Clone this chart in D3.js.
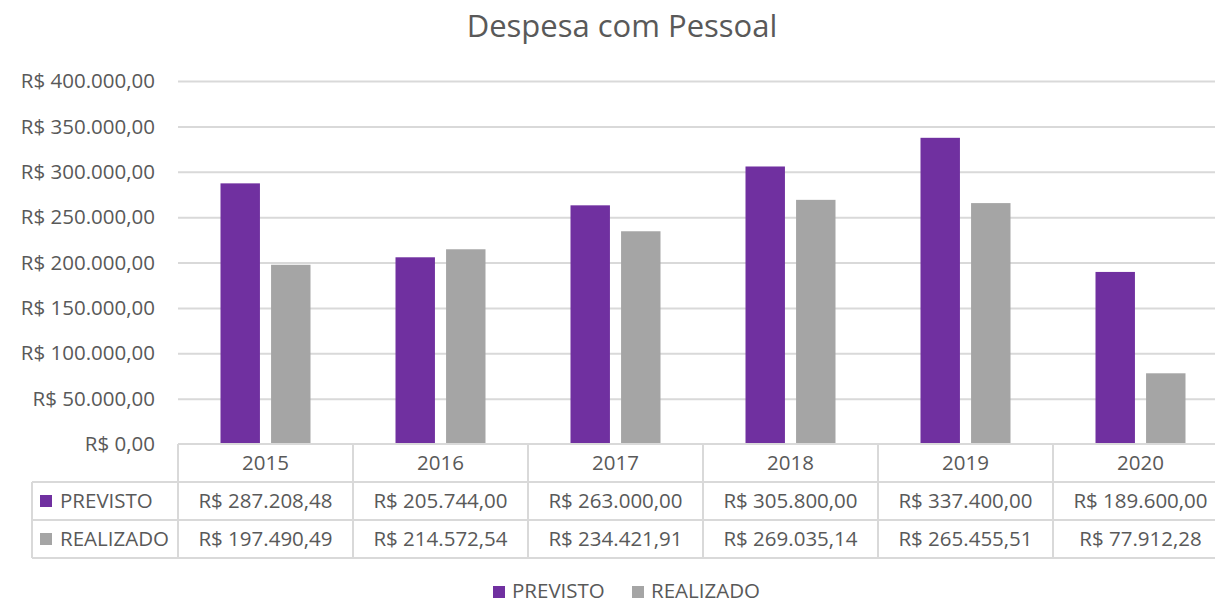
<!DOCTYPE html>
<html>
<head>
<meta charset="utf-8">
<script src="https://cdn.jsdelivr.net/npm/d3@7"></script>
<style>
  body { margin: 0; background: #fff; }
  svg text { font-family: "Open Sans", "Liberation Sans", sans-serif; fill: #595959; }
</style>
</head>
<body>
<div id="chart"></div>
<script>
'use strict'

const years = ['2015', '2016', '2017', '2018', '2019', '2020']
const seriesNames = ['PREVISTO', 'REALIZADO']
const previsto = [287208.48, 205744.00, 263000.00, 305800.00, 337400.00, 189600.00]
const realizado = [197490.49, 214572.54, 234421.91, 269035.14, 265455.51, 77912.28]
const yTicks = [0, 50000, 100000, 150000, 200000, 250000, 300000, 350000, 400000]

const colors = {PREVISTO: '#7030A0', REALIZADO: '#A5A5A5'}
const values = {PREVISTO: previsto, REALIZADO: realizado}

const svgWidth = 1215, svgHeight = 603
const plot = {left: 178, right: 1228, top: 81, bottom: 444}
const rowH = 38
const fs = 20.5

// pt-BR currency
const brl = d3.formatLocale({decimal: ',', thousands: '.', grouping: [3], currency: ['R$ ', '']})
const fmt = brl.format('$,.2f')

const svg = d3.select('#chart').append('svg')
    .attr('width', svgWidth)
    .attr('height', svgHeight)

// title
svg.append('text')
    .attr('x', 622)
    .attr('y', 37)
    .attr('text-anchor', 'middle')
    .attr('font-size', 31)
    .text('Despesa com Pessoal')

const y = d3.scaleLinear().domain([0, 400000]).range([plot.bottom, plot.top])
const x0 = d3.scaleBand().domain(years).range([plot.left, plot.right])
const x1 = d3.scaleBand().domain(seriesNames)
    .range([42.5, x0.bandwidth() - 42.5])
    .paddingInner(0.22)

// gridlines
svg.append('g')
    .selectAll('line')
    .data(yTicks.filter(d => d > 0))
    .join('line')
    .attr('x1', plot.left)
    .attr('x2', svgWidth)
    .attr('y1', d => y(d) + 0.5)
    .attr('y2', d => y(d) + 0.5)
    .attr('stroke', '#D9D9D9')
    .attr('stroke-width', 2)

// y labels
svg.append('g')
    .selectAll('text')
    .data(yTicks)
    .join('text')
    .attr('x', 155)
    .attr('y', d => y(d))
    .attr('dy', '0.35em')
    .attr('text-anchor', 'end')
    .attr('font-size', fs)
    .text(d => fmt(d))

// bars
const grp = svg.append('g')
    .selectAll('g')
    .data(years)
    .join('g')
    .attr('transform', d => `translate(${x0(d)},0)`)

grp.selectAll('rect')
    .data((d, i) => seriesNames.map(s => ({s: s, v: values[s][i]})))
    .join('rect')
    .attr('x', d => x1(d.s))
    .attr('width', x1.bandwidth())
    .attr('y', d => y(d.v))
    .attr('height', d => y(0) - y(d.v))
    .attr('fill', d => colors[d.s])

// data table
const tbl = svg.append('g').attr('stroke', '#D9D9D9').attr('stroke-width', 2).attr('fill', 'none')
const tableLeft = 32
const rows = [plot.bottom, plot.bottom + rowH, plot.bottom + rowH * 2, plot.bottom + rowH * 3]

// horizontal lines
tbl.append('line').attr('x1', plot.left).attr('x2', svgWidth).attr('y1', rows[0]).attr('y2', rows[0])
rows.slice(1).forEach(r => {
    tbl.append('line').attr('x1', tableLeft).attr('x2', svgWidth).attr('y1', r).attr('y2', r)
})
// vertical lines
years.forEach(yr => {
    tbl.append('line').attr('x1', x0(yr)).attr('x2', x0(yr)).attr('y1', rows[0]).attr('y2', rows[3])
})
tbl.append('line').attr('x1', tableLeft).attr('x2', tableLeft).attr('y1', rows[1]).attr('y2', rows[3])

// header years
svg.append('g')
    .selectAll('text')
    .data(years)
    .join('text')
    .attr('x', d => x0(d) + x0.bandwidth() / 2)
    .attr('y', rows[0] + rowH / 2)
    .attr('dy', '0.35em')
    .attr('text-anchor', 'middle')
    .attr('font-size', fs)
    .text(d => d)

seriesNames.forEach((s, si) => {
    const cy = rows[si + 1] + rowH / 2
    svg.append('rect')
        .attr('x', 40).attr('y', cy - 6)
        .attr('width', 12).attr('height', 12)
        .attr('fill', colors[s])
    svg.append('text')
        .attr('x', 60).attr('y', cy)
        .attr('dy', '0.35em')
        .attr('font-size', fs)
        .text(s)
    svg.append('g')
        .selectAll('text')
        .data(values[s])
        .join('text')
        .attr('x', (d, i) => x0(years[i]) + x0.bandwidth() / 2)
        .attr('y', cy)
        .attr('dy', '0.35em')
        .attr('text-anchor', 'middle')
        .attr('font-size', fs)
        .text(d => fmt(d))
})

// legend
const legend = svg.append('g').attr('transform', 'translate(493,591)')
const legendX = [0, 139]
seriesNames.forEach((s, i) => {
    legend.append('rect')
        .attr('x', legendX[i]).attr('y', -5)
        .attr('width', 12).attr('height', 12)
        .attr('fill', colors[s])
    legend.append('text')
        .attr('x', legendX[i] + 19).attr('y', 0)
        .attr('dy', '0.33em')
        .attr('font-size', fs)
        .text(s)
})
</script>
</body>
</html>
